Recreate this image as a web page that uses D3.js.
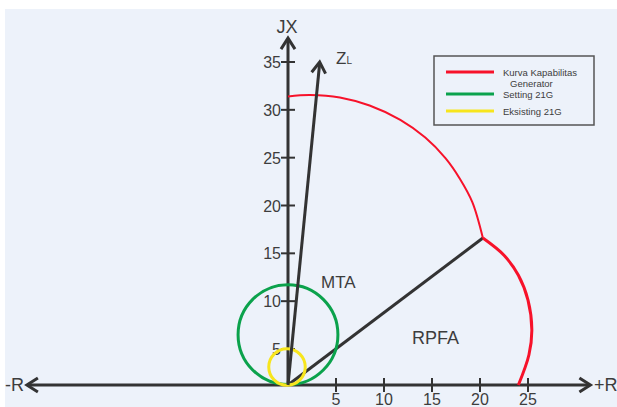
<!DOCTYPE html>
<html>
<head>
<meta charset="utf-8">
<script src="https://cdn.jsdelivr.net/npm/d3@7"></script>
<style>
  body { margin: 0; background: #fff; }
  text { font-family: "Liberation Sans", Arial, sans-serif; fill: #3d3d3d; }
</style>
</head>
<body>
<svg width="617" height="407"></svg>
<script>
// Tick labels
var xTicks = [5, 10, 15, 20, 25];
var yTicks = [5, 10, 15, 20, 25, 30, 35];

// Generator capability curve (R, JX)
var fieldR = [0, 2.3, 5.4, 8.5, 11.7, 14.3, 16.4, 17.9, 19.2, 20.3];
var fieldX = [31.4, 31.55, 31.3, 30.45, 28.95, 27.1, 24.95, 22.8, 20.35, 16.6];
var armR   = [20.3, 22.5, 24.0, 25.0, 25.4, 25.1, 24.0];
var armX   = [16.6, 14.8, 12.7, 10.1, 7.0, 4.2, 0];

// Relay circles: centre on the JX axis and radius (in R units)
var settingCentre = 6.5, settingRadius = 5.2;
var existCentre = 2.5, existRadius = 1.9;

// Line end points
var zlEnd = [3.3, 35];
var mtaEnd = [20.3, 16.6];

// Legend
var legendLabels = [["Kurva Kapabilitas", "Generator"], ["Setting 21G"], ["Eksisting 21G"]];
var legendColors = ["#f7122a", "#0ba24c", "#f7e51d"];

var svg = d3.select("svg"),
    width = +svg.attr("width"),
    height = +svg.attr("height");

var dark = "#333";

// background panel
svg.append("rect")
    .attr("x", 5).attr("y", 9)
    .attr("width", width - 5).attr("height", height - 9)
    .attr("fill", "#edf2fa");

// scales (the drawing is not evenly spaced below 5 on JX)
var x = d3.scaleLinear().domain([0, 25]).range([288, 528]);
var y = d3.scaleLinear().domain([0, 5, 35]).range([385, 349, 62]);

var x0 = x(0), y0 = y(0);

// arrow head helper: chevron at tip pointing along angle (radians)
function arrowHead(tx, ty, angle, len, half) {
  var g = svg.append("g")
      .attr("transform", "translate(" + tx + "," + ty + ") rotate(" + (angle * 180 / Math.PI) + ")");
  g.append("path")
      .attr("d", "M" + (-len) + "," + (-half) + "L0,0L" + (-len) + "," + half)
      .attr("fill", "none")
      .attr("stroke", dark)
      .attr("stroke-width", 3)
      .attr("stroke-linejoin", "miter");
}

// R axis
var rMin = -27.2, rMax = 31.5, jxMax = 37.5;
svg.append("line")
    .attr("x1", x(rMin) + 1).attr("x2", x(rMax) - 1)
    .attr("y1", y0).attr("y2", y0)
    .attr("stroke", dark).attr("stroke-width", 3);
arrowHead(x(rMax), y0, 0, 11, 7);
arrowHead(x(rMin), y0, Math.PI, 11, 7);

// JX axis
svg.append("line")
    .attr("x1", x0).attr("x2", x0)
    .attr("y1", y0).attr("y2", y(jxMax) + 1)
    .attr("stroke", dark).attr("stroke-width", 3);
arrowHead(x0, y(jxMax), -Math.PI / 2, 11, 7);

// ticks
svg.append("g").selectAll("line")
    .data(xTicks)
  .enter().append("line")
    .attr("x1", function(d) { return x(d); })
    .attr("x2", function(d) { return x(d); })
    .attr("y1", y0 - 7).attr("y2", y0 + 7)
    .attr("stroke", dark).attr("stroke-width", 2);

svg.append("g").selectAll("text")
    .data(xTicks)
  .enter().append("text")
    .attr("x", function(d) { return x(d); })
    .attr("y", 405)
    .attr("text-anchor", "middle")
    .attr("font-size", 16)
    .text(function(d) { return d; });

svg.append("g").selectAll("line")
    .data(yTicks)
  .enter().append("line")
    .attr("x1", x0 - 7).attr("x2", x0 + 7)
    .attr("y1", function(d) { return y(d); })
    .attr("y2", function(d) { return y(d); })
    .attr("stroke", dark).attr("stroke-width", 2);

svg.append("g").selectAll("text")
    .data(yTicks)
  .enter().append("text")
    .attr("x", x0 - 7)
    .attr("y", function(d) { return y(d) + 6; })
    .attr("text-anchor", "end")
    .attr("font-size", 16)
    .text(function(d) { return d; });

// axis labels
svg.append("text").attr("x", x0 - 1).attr("y", 33)
    .attr("text-anchor", "middle").attr("font-size", 18).text("JX");
svg.append("text").attr("x", 24).attr("y", 391)
    .attr("text-anchor", "end").attr("font-size", 18).text("-R");
svg.append("text").attr("x", 594).attr("y", 391)
    .attr("font-size", 18).text("+R");

// MTA line
svg.append("line")
    .attr("x1", x0).attr("y1", y0)
    .attr("x2", x(mtaEnd[0])).attr("y2", y(mtaEnd[1]))
    .attr("stroke", dark).attr("stroke-width", 3);

// capability curve
var line = d3.line()
    .x(function(d) { return x(d[0]); })
    .y(function(d) { return y(d[1]); })
    .curve(d3.curveCatmullRom);

svg.append("path")
    .datum(d3.zip(fieldR, fieldX))
    .attr("d", line)
    .attr("fill", "none").attr("stroke", legendColors[0]).attr("stroke-width", 2);

svg.append("path")
    .datum(d3.zip(armR, armX))
    .attr("d", line)
    .attr("fill", "none").attr("stroke", legendColors[0]).attr("stroke-width", 3);

// relay circles
svg.append("circle")
    .attr("cx", x0).attr("cy", y(settingCentre))
    .attr("r", x(settingRadius) - x0)
    .attr("fill", "none").attr("stroke", legendColors[1]).attr("stroke-width", 3);

svg.append("circle")
    .attr("cx", x0 - 1).attr("cy", y(existCentre))
    .attr("r", x(existRadius) - x0)
    .attr("fill", "none").attr("stroke", legendColors[2]).attr("stroke-width", 3);

// Z_L line with arrow
var zx = x(zlEnd[0]), zy = y(zlEnd[1]);
svg.append("line")
    .attr("x1", x0).attr("y1", y0)
    .attr("x2", zx).attr("y2", zy + 1)
    .attr("stroke", dark).attr("stroke-width", 3);
arrowHead(zx, zy, Math.atan2(zy - y0, zx - x0), 11, 7);

var zl = svg.append("text").attr("x", 336).attr("y", 64).attr("font-size", 17);
zl.append("tspan").text("Z");
zl.append("tspan").attr("font-size", 10).text("L");

// region labels
svg.append("text").attr("x", 321).attr("y", 288).attr("font-size", 17).text("MTA");
svg.append("text").attr("x", 412).attr("y", 344).attr("font-size", 18).text("RPFA");

// legend
var legend = svg.append("g");
legend.append("rect")
    .attr("x", 434).attr("y", 56).attr("width", 160).attr("height", 69)
    .attr("fill", "none").attr("stroke", "#555").attr("stroke-width", 1.5);

var legendY = [72, 94, 111];
legendLabels.forEach(function(lbl, i) {
  legend.append("line")
      .attr("x1", 446).attr("x2", 494)
      .attr("y1", legendY[i]).attr("y2", legendY[i])
      .attr("stroke", legendColors[i]).attr("stroke-width", 3);
  lbl.forEach(function(t, j) {
    legend.append("text")
        .attr("x", j === 0 ? 503 : 510)
        .attr("y", legendY[i] + 3.5 + j * 11)
        .attr("font-size", 9.5)
        .text(t);
  });
});
</script>
</body>
</html>
